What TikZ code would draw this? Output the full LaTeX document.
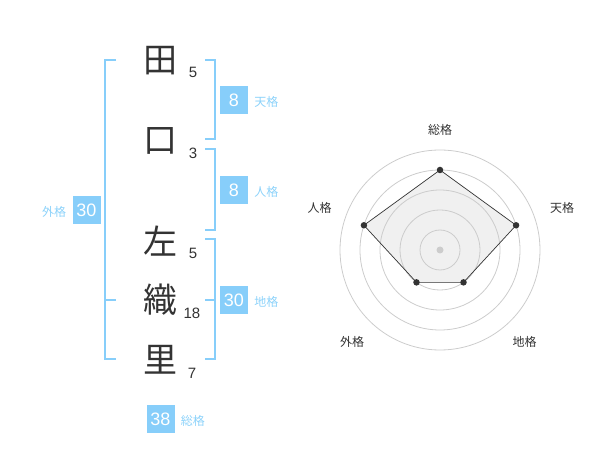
\documentclass[tikz,border=0pt]{standalone}
\usepackage{fontspec}
\setmainfont{Liberation Sans}
\newfontfamily\jpfont{Noto Sans CJK JP}
\usepackage{tikz}
\usetikzlibrary{calc,positioning}
\definecolor{kakublue}{HTML}{87CEFA}
\definecolor{kakulabel}{HTML}{8CD2FA}
\definecolor{inkgray}{HTML}{333333}
\definecolor{ringgray}{HTML}{CCCCCC}
\definecolor{areagray}{HTML}{F0F0F0}
\tikzstyle{kanji node}  = [inner sep=0, text=inkgray, font=\jpfont\fontsize{34}{34}\selectfont]
\tikzstyle{stroke node} = [inner sep=0, text=inkgray, font=\fontsize{15}{15}\selectfont]
\tikzstyle{value node}  = [inner sep=0, fill=kakublue, text=white, minimum width=28, minimum height=28, font=\fontsize{18}{18}\selectfont]
\tikzstyle{kaku node}   = [inner sep=0, text=kakulabel, font=\jpfont\fontsize{12}{12}\selectfont]
\tikzstyle{bracket}     = [draw=kakublue, line width=2]
\tikzstyle{radar label} = [inner sep=0, text=inkgray, font=\jpfont\fontsize{12}{12}\selectfont]
\tikzstyle{radar dot}   = [circle, fill=inkgray, inner sep=0, minimum size=6.5]

\begin{document}
\begin{tikzpicture}[x=1pt, y=-1pt]
\useasboundingbox (0,0) rectangle (600,470);

    % name characters with stroke counts
    \node[kanji node] (c1) at (160,61) {田};
    \node[kanji node] (c2) at (160,141) {口};
    \node[kanji node] (c3) at (160,241) {左};
    \node[kanji node] (c4) at (160,300) {織};
    \node[kanji node] (c5) at (160,360) {里};
    \node[stroke node] (s1) at (193,72.5) {5};
    \node[stroke node] (s2) at (193,153) {3};
    \node[stroke node] (s3) at (193,253) {5};
    \node[stroke node] (s4) at (192,313) {18};
    \node[stroke node] (s5) at (192,373) {7};

    % brackets
    \draw[bracket] (205,60) -- (215,60) -- (215,139) -- (205,139);
    \draw[bracket] (205,149) -- (215,149) -- (215,230) -- (205,230);
    \draw[bracket] (205,239) -- (215,239) -- (215,359) -- (205,359);
    \draw[bracket] (215,300) -- (205,300);
    \draw[bracket] (116,60) -- (105,60) -- (105,359) -- (116,359);
    \draw[bracket] (105,300) -- (116,300);

    % values
    \node[value node] (ten) at (234,100) {8};
    \node[kaku node, right=6pt of ten, yshift=-2pt] {天格};
    \node[value node] (jin) at (234,190) {8};
    \node[kaku node, right=6pt of jin, yshift=-2pt] {人格};
    \node[value node] (chi) at (234,300) {30};
    \node[kaku node, right=6pt of chi, yshift=-2pt] {地格};
    \node[value node] (gai) at (86.5,210) {30};
    \node[kaku node, left=6pt of gai, yshift=-2pt] {外格};
    \node[value node] (sou) at (160.5,419) {38};
    \node[kaku node, right=6pt of sou, yshift=-2pt] {総格};

    % radar chart
    \coordinate (center) at (440,250);
    \coordinate (r-sou) at ($(center)+(-90:80)$);
    \coordinate (r-ten) at ($(center)+(-18:80)$);
    \coordinate (r-chi) at ($(center)+(54:40)$);
    \coordinate (r-gai) at ($(center)+(126:40)$);
    \coordinate (r-jin) at ($(center)+(198:80)$);
    \fill[areagray] (r-sou) -- (r-ten) -- (r-chi) -- (r-gai) -- (r-jin) -- cycle;
    \foreach \r in {20,40,60,80,100}
        \draw[ringgray, line width=0.8] (center) circle (\r);
    \fill[ringgray] (center) circle (3.5);
    \draw[inkgray, line width=0.7] (r-sou) -- (r-ten) -- (r-chi) -- (r-gai) -- (r-jin) -- cycle;
    \foreach \p in {sou,ten,chi,gai,jin}
        \node[radar dot] at (r-\p) {};

    \node[radar label] (l-sou) at (440,130) {総格};
    \node[radar label] (l-ten) at (562,208) {天格};
    \node[radar label] (l-jin) at (319.5,208) {人格};
    \node[radar label] (l-gai) at (352,342) {外格};
    \node[radar label] (l-chi) at (524.5,342) {地格};

\end{tikzpicture}
\end{document}
